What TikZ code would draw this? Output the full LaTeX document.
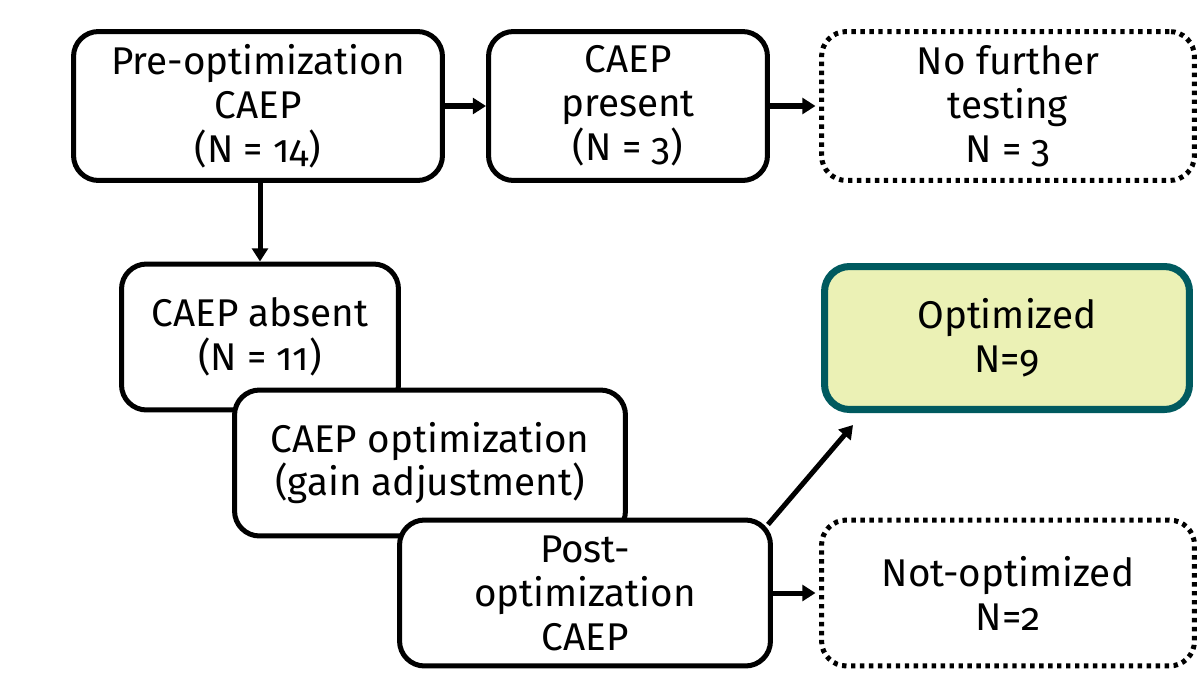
\documentclass[tikz,border=0pt]{standalone}
\usepackage{fontspec}
\setmainfont[Numbers=OldStyle]{Fira Sans}
\usetikzlibrary{arrows.meta}
\definecolor{optteal}{HTML}{005A5F}
\definecolor{optfill}{HTML}{EBF1B5}
\tikzset{
  box/.style={draw, line width=2.85pt, rounded corners=0.5cm, fill=white, align=center,
    inner sep=0pt, font=\fontsize{22}{25}\selectfont},
  dotbox/.style={box, dash pattern=on 2.5pt off 2.6pt},
  goodbox/.style={box, draw=optteal, fill=optfill, line width=4pt},
  flow/.style={-{Triangle[length=7.5pt,width=9pt]}, line width=2.85pt}
}

\begin{document}
\begin{tikzpicture}[x=0.02cm, y=-0.02cm]
\useasboundingbox (0,0) rectangle (1203,676);
% solid boxes, later ones lie on top
\foreach \Name/\X/\Y/\Wd/\Ht/\Text in {pre/258/106/7.38/2.98/{Pre-optimization\\CAEP\\(N = 14)},
    present/628/106/5.58/2.98/{CAEP\\present\\(N = 3)},
    absent/260/337/5.54/2.92/{CAEP absent\\(N = 11)},
    gain/430/463/7.82/2.92/{CAEP optimization\\(gain adjustment)},
    post/585/593/7.42/2.92/{Post-\\optimization\\CAEP}}
    \node[box, minimum width=\Wd cm, minimum height=\Ht cm] (\Name) at (\X,\Y) {\Text};
% outcome boxes
\node[dotbox, minimum width=7.46cm, minimum height=2.98cm] (nofurther) at (1008,106) {No further\\testing\\N = 3};
\node[goodbox, minimum width=7.3cm, minimum height=2.86cm] (optimized) at (1007,338) {Optimized\\N=9};
\node[dotbox, minimum width=7.46cm, minimum height=2.92cm] (notopt) at (1008,593) {Not-optimized\\N=2};
% arrows
\draw[flow] (pre.east) -- (present.west);
\draw[flow, shorten >=2pt] (present.east) -- (nofurther.west);
\draw[flow] (pre.south -| absent.north) -- (absent.north);
\draw[flow] ([xshift=-0.1cm,yshift=-0.14cm]post.north east) -- ([xshift=0.64cm,yshift=-0.24cm]optimized.south west);
\draw[flow, shorten >=2pt] (post.east) -- (notopt.west);
\end{tikzpicture}
\end{document}
